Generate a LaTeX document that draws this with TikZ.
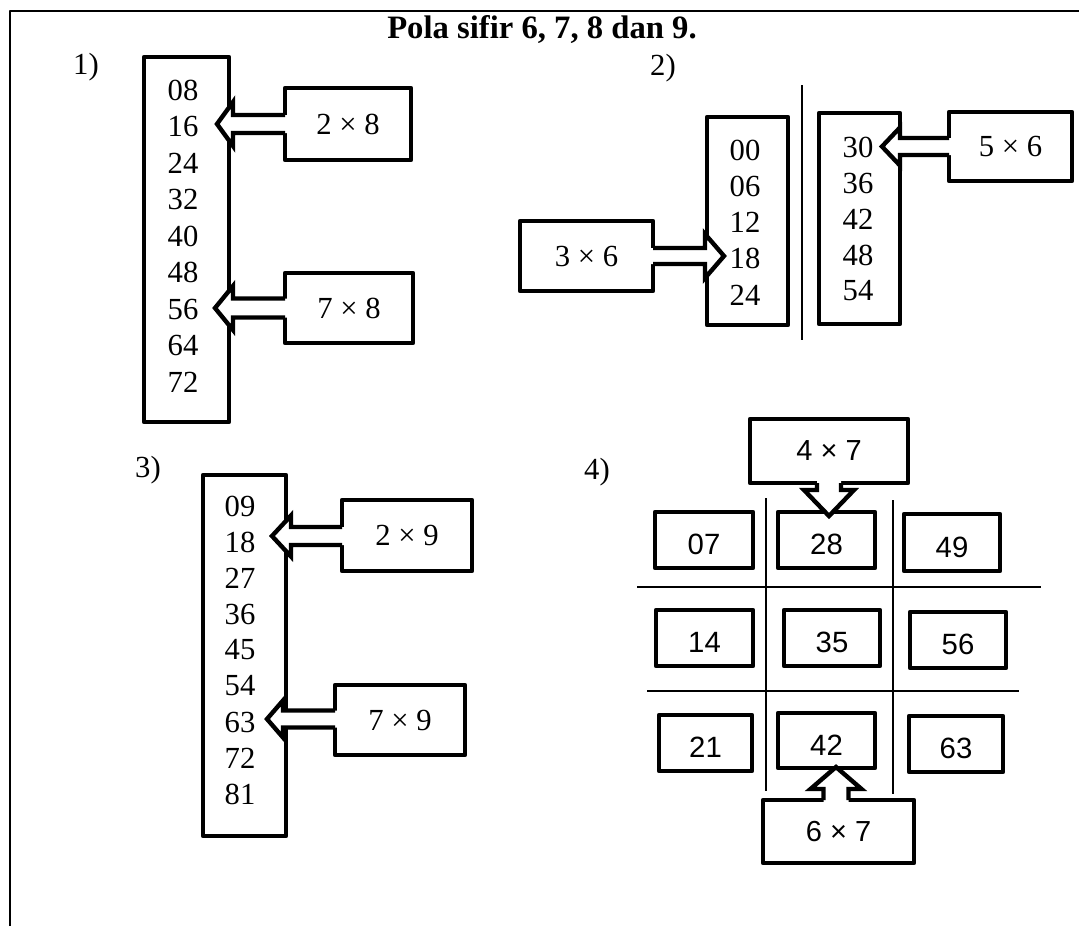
\documentclass[tikz,border=0pt]{standalone}
\usepackage{fontspec}
\setmainfont{Liberation Serif}
\newfontfamily\arialf{Liberation Sans}
\usetikzlibrary{calc}
% block arrows: #1 start (box side), #2 tip, #3 shaft half width, #4 head half width, #5 head length (px)
\newcommand\ArrowL[5]{%
 \fill[white] let \p1=(#1),\p2=(#2) in (\x1+3pt,\y2+#3*0.75pt) -- (\x2+#5*0.75pt,\y2+#3*0.75pt) -- (\x2+#5*0.75pt,\y2+#4*0.75pt) -- (\x2,\y2) -- (\x2+#5*0.75pt,\y2-#4*0.75pt) -- (\x2+#5*0.75pt,\y2-#3*0.75pt) -- (\x1+3pt,\y2-#3*0.75pt) -- cycle;
 \draw[aline] let \p1=(#1),\p2=(#2) in (\x1,\y2+#3*0.75pt) -- (\x2+#5*0.75pt,\y2+#3*0.75pt) -- (\x2+#5*0.75pt,\y2+#4*0.75pt) -- (\x2,\y2) -- (\x2+#5*0.75pt,\y2-#4*0.75pt) -- (\x2+#5*0.75pt,\y2-#3*0.75pt) -- (\x1,\y2-#3*0.75pt);}
\newcommand\ArrowR[5]{%
 \fill[white] let \p1=(#1),\p2=(#2) in (\x1-3pt,\y2+#3*0.75pt) -- (\x2-#5*0.75pt,\y2+#3*0.75pt) -- (\x2-#5*0.75pt,\y2+#4*0.75pt) -- (\x2,\y2) -- (\x2-#5*0.75pt,\y2-#4*0.75pt) -- (\x2-#5*0.75pt,\y2-#3*0.75pt) -- (\x1-3pt,\y2-#3*0.75pt) -- cycle;
 \draw[aline] let \p1=(#1),\p2=(#2) in (\x1,\y2+#3*0.75pt) -- (\x2-#5*0.75pt,\y2+#3*0.75pt) -- (\x2-#5*0.75pt,\y2+#4*0.75pt) -- (\x2,\y2) -- (\x2-#5*0.75pt,\y2-#4*0.75pt) -- (\x2-#5*0.75pt,\y2-#3*0.75pt) -- (\x1,\y2-#3*0.75pt);}
\newcommand\ArrowD[5]{%
 \fill[white] let \p1=(#1),\p2=(#2) in (\x2+#3*0.75pt,\y1+3pt) -- (\x2+#3*0.75pt,\y2+#5*0.75pt) -- (\x2+#4*0.75pt,\y2+#5*0.75pt) -- (\x2,\y2) -- (\x2-#4*0.75pt,\y2+#5*0.75pt) -- (\x2-#3*0.75pt,\y2+#5*0.75pt) -- (\x2-#3*0.75pt,\y1+3pt) -- cycle;
 \draw[aline] let \p1=(#1),\p2=(#2) in (\x2+#3*0.75pt,\y1) -- (\x2+#3*0.75pt,\y2+#5*0.75pt) -- (\x2+#4*0.75pt,\y2+#5*0.75pt) -- (\x2,\y2) -- (\x2-#4*0.75pt,\y2+#5*0.75pt) -- (\x2-#3*0.75pt,\y2+#5*0.75pt) -- (\x2-#3*0.75pt,\y1);}
\newcommand\ArrowU[5]{%
 \fill[white] let \p1=(#1),\p2=(#2) in (\x2+#3*0.75pt,\y1-3pt) -- (\x2+#3*0.75pt,\y2-#5*0.75pt) -- (\x2+#4*0.75pt,\y2-#5*0.75pt) -- (\x2,\y2) -- (\x2-#4*0.75pt,\y2-#5*0.75pt) -- (\x2-#3*0.75pt,\y2-#5*0.75pt) -- (\x2-#3*0.75pt,\y1-3pt) -- cycle;
 \draw[aline] let \p1=(#1),\p2=(#2) in (\x2+#3*0.75pt,\y1) -- (\x2+#3*0.75pt,\y2-#5*0.75pt) -- (\x2+#4*0.75pt,\y2-#5*0.75pt) -- (\x2,\y2) -- (\x2-#4*0.75pt,\y2-#5*0.75pt) -- (\x2-#3*0.75pt,\y2-#5*0.75pt) -- (\x2-#3*0.75pt,\y1);}
\newcommand\Low[1]{\raisebox{-3.5pt}[\height][0pt]{#1}}
\begin{document}
\begin{tikzpicture}[x=0.75pt,y=-0.75pt, line join=round,
  sz/.style 2 args={minimum width=#1*0.75pt, minimum height=#2*0.75pt},
  tall/.style={draw, line width=3.3pt, outer sep=0pt, inner sep=0pt},
  num/.style={inner sep=0pt, font=\fontsize{23}{27}\selectfont},
  lbl/.style={inner sep=0pt, font=\fontsize{23}{27}\selectfont},
  cbox/.style={draw, line width=3.3pt, outer sep=0pt, inner sep=0pt, fill=white, font=\fontsize{23}{27}\selectfont},
  sbox/.style={draw, line width=3.3pt, outer sep=0pt, inner sep=0pt, fill=white, font=\arialf\fontsize{21.75}{26}\selectfont},
  gbox/.style={draw, line width=3.5pt, outer sep=0pt, inner sep=0pt, font=\arialf\fontsize{22}{26}\selectfont},
  aline/.style={line width=3.3pt, line join=miter},
  gline/.style={line width=1.2pt},
  frame/.style={line width=1.2pt},
]
\useasboundingbox (0,0) rectangle (1079,926);
\fill[white] (0,0) rectangle (1079,926);
% frame
\coordinate (fb) at (10,926);
\coordinate (fc) at (10,11);
\coordinate (fr) at (1079,11);
\draw[frame] (fb) -- (fc) -- (fr);
% title
\node[anchor=base, inner sep=0pt, font=\bfseries\fontsize{24.5}{28}\selectfont] (title) at (542,38) {Pola sifir 6, 7, 8 dan 9.};

% ---------- Part 1 ----------
\node[lbl] (l1) at (86,67) {1)};
\node[tall, sz={85}{365}] (T1) at (186.5,239.5) {};
\foreach \v [count=\i from 0] in {08,16,24,32,40,48,56,64,72}
  \node[num] (a\v) at (183,{90+36.5*\i}) {\v};
\node[cbox, sz={126}{72}] (B28) at (348,124) {2 × 8};
\node[cbox, sz={128}{70}] (B78) at (349,308) {7 × 8};
\coordinate (t16) at (217,124);
\coordinate (t56) at (215,308);
\ArrowL{B28.west}{t16}{9}{22}{16}
\ArrowL{B78.west}{t56}{9.5}{22}{18}

% ---------- Part 2 ----------
\node[lbl] (l2) at (663,68) {2)};
\coordinate (vt) at (802,85);
\coordinate (vb) at (802,340);
\draw[line width=1.6pt] (vt) -- (vb);
\node[tall, sz={81}{208}] (T2a) at (747.5,221) {};
\foreach \v [count=\i from 0] in {00,06,12,18,24}
  \node[num] (b\v) at (745,{150+36.25*\i}) {\v};
\node[tall, sz={81}{211}] (T2b) at (859.5,218.5) {};
\foreach \v [count=\i from 0] in {30,36,42,48,54}
  \node[num] (c\v) at (858,{147+36*\i}) {\v};
\node[cbox, sz={133}{70}] (B36) at (586.5,256) {3 × 6};
\node[cbox, sz={123}{69}] (B56) at (1010.5,146.5) {5 × 6};
\coordinate (t18) at (724,256);
\coordinate (t30) at (882,146.5);
\ArrowR{B36.east}{t18}{8}{22}{19}
\ArrowL{B56.west}{t30}{8.5}{19}{18}

% ---------- Part 3 ----------
\node[lbl] (l3) at (148,470) {3)};
\node[tall, sz={83}{361}] (T3) at (244.5,655.5) {};
\foreach \v [count=\i from 0] in {09,18,27,36,45,54,63,72,81}
  \node[num] (d\v) at (240,{506+36*\i}) {\v};
\node[cbox, sz={130}{71}] (B29) at (407,535.5) {2 × 9};
\node[cbox, sz={130}{70}] (B79) at (400,720) {7 × 9};
\coordinate (t18b) at (272,536);
\coordinate (t63) at (267,719);
\ArrowL{B29.west}{t18b}{9}{20.5}{19}
\ArrowL{B79.west}{t63}{8.5}{18.5}{16}

% ---------- Part 4 ----------
\node[lbl] (l4) at (597,472) {4)};
\coordinate (g1t) at (766,498);
\coordinate (g1b) at (766,791);
\coordinate (g2t) at (893,500);
\coordinate (g2b) at (893,794);
\coordinate (h1l) at (637,587);
\coordinate (h1r) at (1041,587);
\coordinate (h2l) at (647,691);
\coordinate (h2r) at (1019,691);
\draw[gline] (g1t) -- (g1b);
\draw[gline] (g2t) -- (g2b);
\draw[gline] (h1l) -- (h1r);
\draw[gline] (h2l) -- (h2r);
\node[gbox, sz={98}{56}] (c07) at (704,540) {\Low{07}};
\node[gbox, sz={97}{56}] (c28) at (826.5,540) {\Low{28}};
\node[gbox, sz={96}{57}] (c49) at (952,542.5) {\Low{49}};
\node[gbox, sz={97}{56}] (c14) at (704.5,638) {\Low{14}};
\node[gbox, sz={96}{56}] (c35) at (832,638) {\Low{35}};
\node[gbox, sz={96}{56}] (c56) at (958,640) {\Low{56}};
\node[gbox, sz={93}{56}] (c21) at (705.5,743) {\Low{21}};
\node[gbox, sz={97}{55}] (c42) at (826.5,740.5) {\Low{42}};
\node[gbox, sz={94}{56}] (c63) at (956,744) {\Low{63}};
\node[sbox, sz={158}{64}] (B47) at (829,451) {4 × 7};
\node[sbox, sz={151}{63}] (B67) at (838.5,831.5) {6 × 7};
\coordinate (t28) at (829,516);
\coordinate (t42) at (836,767);
\ArrowD{B47.south}{t28}{12}{25}{26}
\ArrowU{B67.north}{t42}{12.5}{25.5}{22}
\end{tikzpicture}
\end{document}
